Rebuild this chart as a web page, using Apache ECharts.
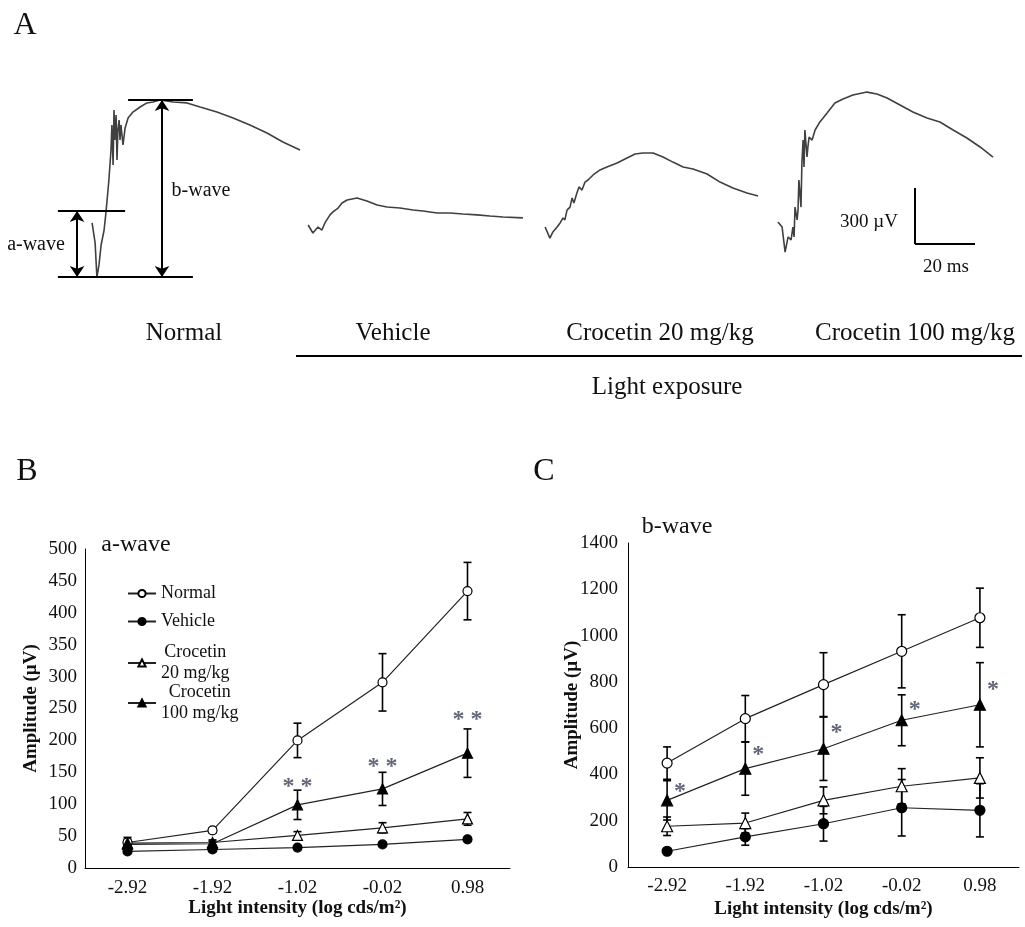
<!DOCTYPE html>
<html><head><meta charset="utf-8">
<script src="https://cdn.jsdelivr.net/npm/echarts@6/dist/echarts.min.js"></script>
<style>html,body{margin:0;padding:0;background:#fff}#c{width:1025px;height:927px}</style>
</head><body><div id="c"></div>
<script>
const FONT = "'Liberation Serif','Times New Roman',serif";
const INK = '#111';

// ---------- Panel A: ERG traces (time in ms, amplitude in µV) ----------
const normalT = [30.7,31.7,32.3,33,33.7,34.7,35.3,35.7,36.3,37,37.3,37.7,38,38.3,38.7,39,39.3,39.7,40,40.3,41,41.7,42.7,44.3,46.7,49,51,53.3,57.7,62.3,66.7,72.3,77.7,83.3,89,94.3,100];
const normalV = [-64,-171,-354,-289,-182,-102,-11,59,166,327,461,246,541,380,514,273,434,487,380,461,354,445,498,530,557,579,584,595,584,579,557,530,498,461,418,370,327];
const vehicleT = [102.7,104.3,106,107.3,108.3,110,111,112.7,114,115.7,119,122.3,125.7,129,133.3,137.7,141,145.7,150,154.3,159,163.3,167.7,174.3];
const vehicleV = [-75,-118,-86,-102,-64,-21,-5,16,43,59,70,54,32,21,16,5,0,-11,-11,-16,-21,-27,-32,-37];
const cro20T = [181.7,183.3,184.3,185.7,186.7,187.7,188.3,189,190,190.7,191.3,192.3,193,194,195,196,197.7,200,202.3,205.7,209,211.7,214.3,217.7,221,224.3,227.7,231,235.7,240,244.3,249,252.7];
const cro20V = [-86,-145,-112,-86,-64,-37,-48,5,21,70,43,96,129,112,155,166,193,220,236,257,284,305,311,311,289,262,236,225,198,155,123,96,80];
const cro100T = [259.3,260.7,261.7,262.3,262.7,263.7,264.3,264.7,265,265.7,266,266.3,267,267.3,267.7,268,268.3,269,269.3,269.7,270.7,271.7,273.3,275.7,278.3,281,284.3,289,292.3,295.7,300,304.3,309,313.3,317.7,322.3,326.7,331];
const cro100V = [-59,-86,-220,-171,-139,-155,-86,-139,21,-48,5,166,21,257,380,236,434,289,343,396,380,434,477,525,579,600,621,637,627,605,568,530,498,477,434,391,343,289];

// Normal trace annotation levels (µV) and scale bar
const normalBaseline = 0, normalTrough = -354, normalPeak = 595;
const scaleBarT = 305, scaleBarTop = 123, scaleBarUV = 300, scaleBarMs = 20;

// ---------- Panels B & C ----------
const xCats = ['-2.92','-1.92','-1.02','-0.02','0.98'];
const seriesNames = ['Normal','Vehicle','Crocetin 20 mg/kg','Crocetin 100 mg/kg'];

const aNormal = [40, 59, 200, 291, 434];   const aNormalErr = [8, 4, 27, 45, 45];
const aVehicle = [26, 29, 32, 37, 45];     const aVehicleErr = [3, 3, 3, 3, 3];
const aCro20 = [39, 40, 51, 63, 77];       const aCro20Err = [6, 4, 6, 8, 10];
const aCro100 = [37, 38, 99, 124, 180];    const aCro100Err = [6, 4, 23, 26, 38];
const aSigIdx = [2, 3, 4]; const aSigY = [135, 166, 240];

const bNormal = [449, 641, 788, 932, 1077]; const bNormalErr = [70, 100, 138, 158, 128];
const bVehicle = [68, 130, 187, 256, 245];  const bVehicleErr = [0, 36, 75, 122, 115];
const bCro20 = [176, 190, 288, 349, 385];   const bCro20Err = [40, 43, 58, 76, 87];
const bCro100 = [288, 425, 511, 634, 701];  const bCro100Err = [85, 115, 137, 110, 182];
const bSigIdx = [0, 1, 2, 3, 4]; const bSigY = [346, 506, 601, 700, 786];

const zip = (a, b) => a.map((v, i) => [v, b[i]]);

const styles = [
  {symbol:'circle', fill:'#fff'},
  {symbol:'circle', fill:'#000'},
  {symbol:'triangle', fill:'#fff'},
  {symbol:'triangle', fill:'#000'}
];

function errRender(params, api) {
  const x = api.value(0), lo = api.value(1), hi = api.value(2);
  if (hi - lo <= 0) return null;
  const p1 = api.coord([x, lo]), p2 = api.coord([x, hi]);
  const w = 4, st = {stroke:'#000', lineWidth:1.6};
  return {type:'group', children:[
    {type:'line', shape:{x1:p1[0], y1:p1[1], x2:p2[0], y2:p2[1]}, style:st},
    {type:'line', shape:{x1:p1[0]-w, y1:p1[1], x2:p1[0]+w, y2:p1[1]}, style:st},
    {type:'line', shape:{x1:p2[0]-w, y1:p2[1], x2:p2[0]+w, y2:p2[1]}, style:st}
  ]};
}

function panelSeries(axisIdx, means, errs, symSize) {
  const out = [];
  means.forEach((m, k) => {
    out.push({
      name: seriesNames[k], type:'line', xAxisIndex:axisIdx, yAxisIndex:axisIdx,
      data: m, symbol: styles[k].symbol, symbolSize: styles[k].symbol === 'triangle' ? symSize + 1 : symSize,
      showSymbol:true, z:4,
      lineStyle:{color:'#222', width:1.2},
      itemStyle:{color: styles[k].fill, borderColor:'#000', borderWidth:1.2}
    });
    out.push({
      type:'custom', xAxisIndex:axisIdx, yAxisIndex:axisIdx, z:3,
      renderItem: errRender, encode:{x:0, y:[1,2]},
      data: m.map((v, i) => [i, v - errs[k][i], v + errs[k][i]])
    });
  });
  return out;
}

function sigSeries(axisIdx, idx, ys, txt, offset, size) {
  return {
    type:'scatter', xAxisIndex:axisIdx, yAxisIndex:axisIdx, z:5,
    symbolSize:1, itemStyle:{color:'rgba(0,0,0,0)'},
    data: idx.map((c, i) => [c, ys[i]]),
    label:{show:true, position:'inside', formatter:txt, offset:offset,
      fontFamily:FONT, fontSize:size, fontWeight:'bold', color:'#3a4058'}
  };
}

const axisCommon = {
  axisLine:{show:true, lineStyle:{color:'#000', width:1}},
  axisTick:{show:false}, splitLine:{show:false},
  axisLabel:{fontFamily:FONT, fontSize:19, color:INK},
  nameLocation:'middle',
  nameTextStyle:{fontFamily:FONT, fontSize:19, fontWeight:'bold', color:INK}
};

function traceSeries(t, v) {
  return {type:'line', xAxisIndex:0, yAxisIndex:0, data: zip(t, v), symbol:'none',
    lineStyle:{color:'#404040', width:1.6}, z:2, silent:true};
}

function txt(text, x, y, size, extra) {
  return Object.assign({type:'text', x:x, y:y, style:{text:text, fontFamily:FONT, fontSize:size, fill:INK,
    align:'center', verticalAlign:'middle', textAlign:'center', textVerticalAlign:'middle'}}, extra || {});
}

const option = {
  animation:false,
  backgroundColor:'#fff',
  grid:[
    {left:0, top:80.33, width:1020, height:224},
    {left:85, top:549, width:425, height:319},
    {left:628, top:543, width:391, height:324}
  ],
  xAxis:[
    {gridIndex:0, type:'value', min:0, max:340, show:false},
    Object.assign({}, axisCommon, {gridIndex:1, type:'category', data:xCats, boundaryGap:true,
      name:'Light intensity (log cds/m²)', nameGap:31,
      axisLabel:Object.assign({}, axisCommon.axisLabel, {margin:11})}),
    Object.assign({}, axisCommon, {gridIndex:2, type:'category', data:xCats, boundaryGap:true,
      name:'Light intensity (log cds/m²)', nameGap:33,
      axisLabel:Object.assign({}, axisCommon.axisLabel, {margin:10})})
  ],
  yAxis:[
    {gridIndex:0, type:'value', min:-500, max:700, show:false},
    Object.assign({}, axisCommon, {gridIndex:1, type:'value', min:0, max:500, interval:50,
      name:'Amplitude (µV)', nameGap:44,
      axisLabel:Object.assign({}, axisCommon.axisLabel, {margin:8})}),
    Object.assign({}, axisCommon, {gridIndex:2, type:'value', min:0, max:1400, interval:200,
      name:'Amplitude (µV)', nameGap:46, nameMoveOverlap:false,
      axisLabel:Object.assign({}, axisCommon.axisLabel, {margin:10, formatter: v => String(v)})})
  ],
  legend:[
    {data:seriesNames.slice(0,2), left:122, top:578, orient:'vertical', itemGap:7,
      itemWidth:28, itemHeight:9, selectedMode:false,
      textStyle:{fontFamily:FONT, fontSize:18, color:INK, lineHeight:21}},
    {data:seriesNames.slice(2), left:122, top:637, orient:'vertical', itemGap:-2,
      itemWidth:28, itemHeight:9, selectedMode:false,
      formatter: n => { const p = n.split(' '); return '{c|' + p[0] + '}\n{c|' + p.slice(1).join(' ') + '}'; },
      textStyle:{fontFamily:FONT, fontSize:18, color:INK, lineHeight:21,
        rich:{c:{align:'center', fontFamily:FONT, fontSize:18, color:INK, lineHeight:21}}}}
  ],
  graphic:[
    txt('A', 25, 26, 32),
    txt('B', 27, 472, 32),
    txt('C', 544, 472, 32),
    txt('a-wave', 36, 245, 20),
    txt('b-wave', 201, 191, 20),
    txt('300 µV', 869, 222, 19),
    txt('20 ms', 946, 267, 19),
    txt('Normal', 184, 333, 25),
    txt('Vehicle', 393, 333, 25),
    txt('Crocetin 20 mg/kg', 660, 333, 25),
    txt('Crocetin 100 mg/kg', 915, 333, 25),
    {type:'line', shape:{x1:296, y1:356, x2:1022, y2:356}, style:{stroke:'#000', lineWidth:2}},
    txt('Light exposure', 667, 387, 25),
    txt('a-wave', 136, 545, 24),
    txt('b-wave', 677, 527, 24)
  ],
  series:[
    traceSeries(normalT, normalV),
    traceSeries(vehicleT, vehicleV),
    traceSeries(cro20T, cro20V),
    traceSeries(cro100T, cro100V),
    {type:'lines', coordinateSystem:'cartesian2d', xAxisIndex:0, yAxisIndex:0, symbol:'none',
      lineStyle:{color:'#000', width:2, opacity:1}, z:3,
      data:[
        {coords:[[42.7, normalPeak],[64.3, normalPeak]]},
        {coords:[[19.3, normalBaseline],[41.7, normalBaseline]]},
        {coords:[[19.3, normalTrough],[64.3, normalTrough]]},
        {coords:[[scaleBarT, scaleBarTop],[scaleBarT, scaleBarTop - scaleBarUV]]},
        {coords:[[scaleBarT, scaleBarTop - scaleBarUV],[scaleBarT + scaleBarMs, scaleBarTop - scaleBarUV]]}
      ]},
    {type:'lines', coordinateSystem:'cartesian2d', xAxisIndex:0, yAxisIndex:0,
      symbol:['arrow','arrow'], symbolSize:11,
      lineStyle:{color:'#000', width:2, opacity:1}, z:3,
      data:[
        {coords:[[25.7, normalBaseline],[25.7, normalTrough]]},
        {coords:[[54, normalPeak],[54, normalTrough]]}
      ]},
    ...panelSeries(1, [aNormal, aVehicle, aCro20, aCro100], [aNormalErr, aVehicleErr, aCro20Err, aCro100Err], 9),
    ...panelSeries(2, [bNormal, bVehicle, bCro20, bCro100], [bNormalErr, bVehicleErr, bCro20Err, bCro100Err], 10),
    sigSeries(1, aSigIdx, aSigY, '* *', [0, 5], 24),
    sigSeries(2, bSigIdx, bSigY, '*', [13, 5], 24)
  ]
};

const chart = echarts.init(document.getElementById('c'), null, {renderer:'canvas'});
chart.setOption(option);
</script>
</body></html>
